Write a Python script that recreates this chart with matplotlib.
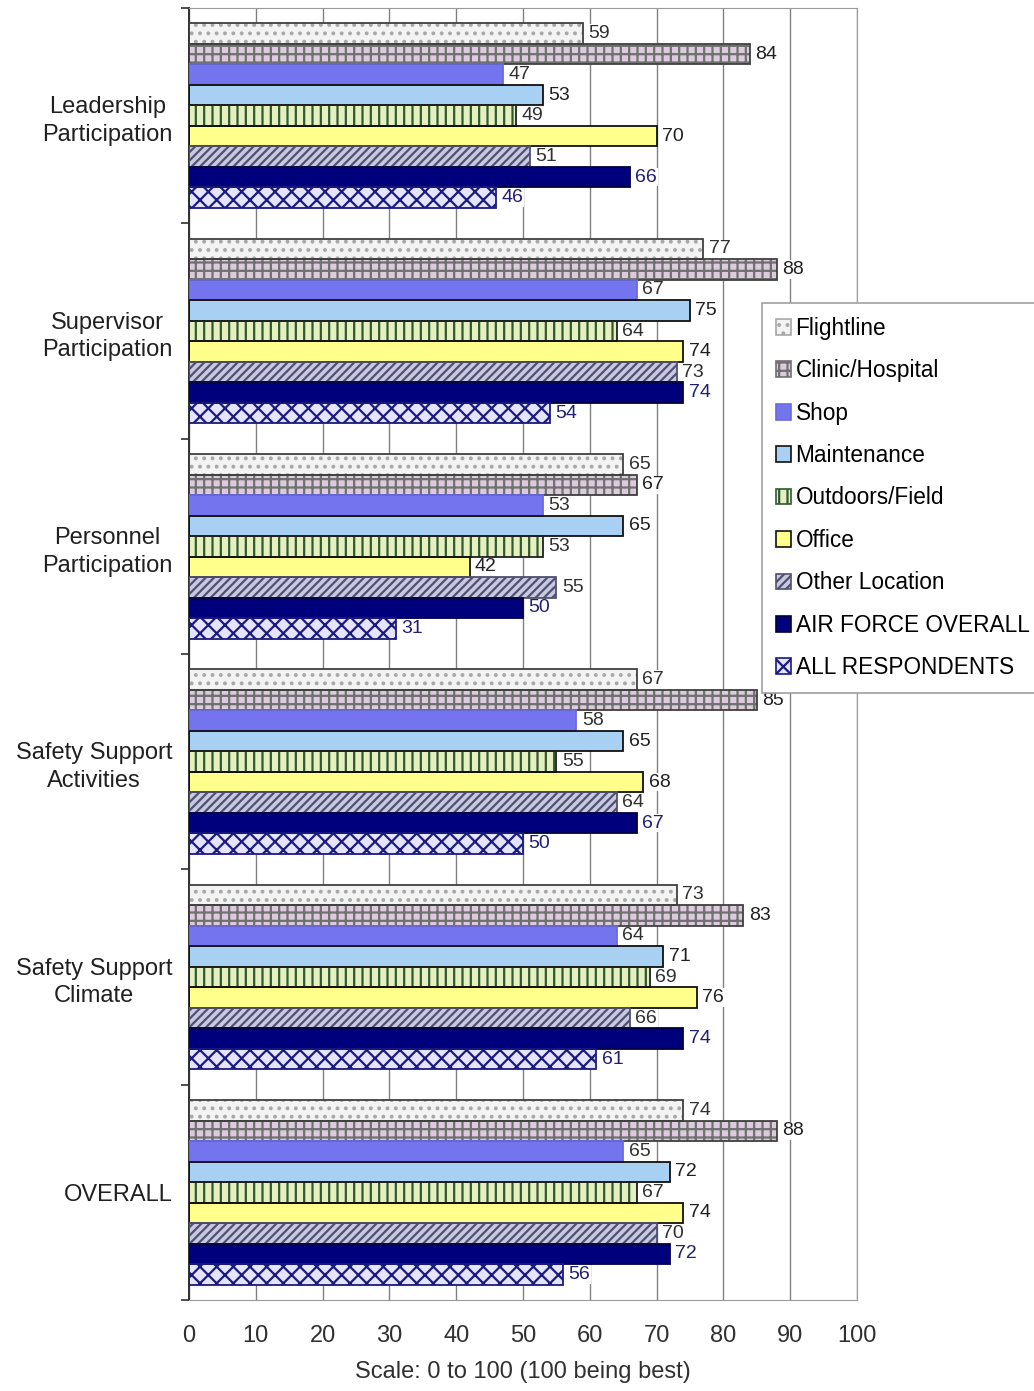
import matplotlib.pyplot as plt
import numpy as np

categories = ["Leadership\nParticipation", "Supervisor\nParticipation", "Personnel\nParticipation",
              "Safety Support\nActivities", "Safety Support\nClimate", "OVERALL"]

series_names = ["Flightline", "Clinic/Hospital", "Shop", "Maintenance", "Outdoors/Field",
                "Office", "Other Location", "AIR FORCE OVERALL", "ALL RESPONDENTS"]

flightline = [59, 77, 65, 67, 73, 74]
clinic = [84, 88, 67, 85, 83, 88]
shop = [47, 67, 53, 58, 64, 65]
maintenance = [53, 75, 65, 65, 71, 72]
outdoors = [49, 64, 53, 55, 69, 67]
office = [70, 74, 42, 68, 76, 74]
other = [51, 73, 55, 64, 66, 70]
af_overall = [66, 74, 50, 67, 74, 72]
all_resp = [46, 54, 31, 50, 61, 56]

x_ticks = [0, 10, 20, 30, 40, 50, 60, 70, 80, 90, 100]

# face, hatch, hatch colour, edge colour, label colour
styles = [
    ("#f3f3f3", "..", "#a8a8a8", "#404040", "#303030"),
    ("#dccbdc", "++", "#707070", "#404040", "#202020"),
    ("#7474ee", None, None, "#6a6ae0", "#303030"),
    ("#a8d0f2", None, None, "#101010", "#202020"),
    ("#e6efc0", "||", "#2f5a2f", "#202020", "#303030"),
    ("#ffff8c", None, None, "#101010", "#202020"),
    ("#c8c8e0", "////", "#505070", "#505070", "#303030"),
    ("#00007c", None, None, "#000040", "#202070"),
    ("#e4e4ff", "xx", "#1a1a80", "#1a1a80", "#202070"),
]


def main():
    plt.rcParams["font.family"] = ["Liberation Sans", "DejaVu Sans"]
    plt.rcParams["hatch.linewidth"] = 1.6

    data = [flightline, clinic, shop, maintenance, outdoors, office, other, af_overall, all_resp]
    period = 10.5
    centers = np.arange(len(categories)) * period

    fig = plt.figure(figsize=(10.34, 13.91), dpi=100)
    ax = fig.add_axes([189 / 1034, 1 - 1300 / 1391, 668 / 1034, 1292 / 1391])

    handles = []
    for j, (name, vals) in enumerate(zip(series_names, data)):
        face, hatch, hcol, edge, lcol = styles[j]
        y = centers + (j - 4)
        if hatch:
            ax.barh(y, vals, height=1.0, color=face, hatch=hatch, edgecolor=hcol,
                    linewidth=0, zorder=2)
        else:
            ax.barh(y, vals, height=1.0, color=face, linewidth=0, zorder=2)
        ax.barh(y, vals, height=1.0, fill=False, edgecolor=edge, linewidth=1.3, zorder=3)
        for yy, v in zip(y, vals):
            ax.text(v + 0.8, yy, str(v), va="center", ha="left", fontsize=14, color=lcol,
                    zorder=4, bbox=dict(facecolor="white", edgecolor="none", pad=0.6))
        handles.append(plt.Rectangle((0, 0), 1, 1, facecolor=face, hatch=hatch,
                                     edgecolor=hcol if hatch else edge, linewidth=1.2))

    ax.set_xlim(0, 100)
    ax.set_ylim(len(categories) * period - 5.25, -5.25)
    ax.set_xticks(x_ticks)
    ax.set_xticklabels([str(t) for t in x_ticks], fontsize=17, color="#303030")
    ax.tick_params(axis="x", length=0, pad=18)
    ax.set_yticks(centers)
    ax.set_yticklabels(categories, fontsize=17, color="#202020", multialignment="center",
                       linespacing=1.35)
    ax.tick_params(axis="y", length=0, pad=12)
    ax.set_yticks(np.arange(len(categories) + 1) * period - 5.25, minor=True)
    ax.tick_params(axis="y", which="minor", length=6, width=1.2, color="#303030")

    ax.xaxis.grid(True, color="#808080", linewidth=1.0, zorder=0)
    ax.set_axisbelow(True)
    for side in ["top", "right", "bottom"]:
        ax.spines[side].set_color("#9a9a9a")
    ax.spines["left"].set_color("#303030")
    ax.spines["left"].set_linewidth(1.4)

    ax.set_xlabel("Scale: 0 to 100 (100 being best)", fontsize=17, color="#303030", labelpad=10)

    leg = fig.legend(handles, series_names, loc="upper left",
                     bbox_to_anchor=(762 / 1034, 1 - 303 / 1391), borderaxespad=0,
                     fontsize=16.3, handlelength=0.7, handleheight=0.7, handletextpad=0.18,
                     labelspacing=0.86, borderpad=0.6, fancybox=False, frameon=True,
                     edgecolor="#a0a0a0", framealpha=1.0)
    leg.get_frame().set_linewidth(1.2)

    fig.savefig("out.png", dpi=100)
    plt.close()


if __name__ == "__main__":
    main()
